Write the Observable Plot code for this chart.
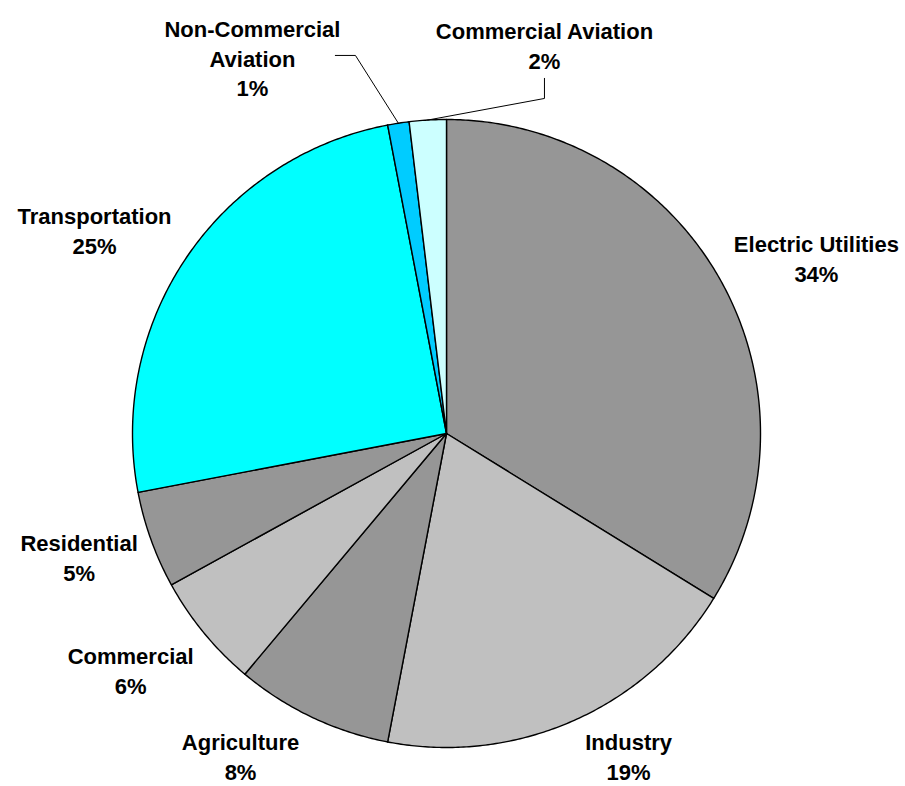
<!DOCTYPE html>
<html>
<head>
<meta charset="utf-8">
<script src="https://cdn.jsdelivr.net/npm/d3@7"></script>
<script src="https://cdn.jsdelivr.net/npm/@observablehq/plot@0.6"></script>
<style>
  html, body { margin: 0; padding: 0; background: #ffffff; }
  #chart { width: 905px; height: 786px; }
</style>
</head>
<body>
<div id="chart"></div>
<script>
// ---- data ----
const categories = ["Electric Utilities", "Industry", "Agriculture", "Commercial", "Residential", "Transportation", "Non-Commercial Aviation", "Commercial Aviation"];
const shares = [33.8, 19.2, 8.1, 5.9, 5.0, 25.0, 1.1, 1.9];
const pctLabels = ["34%", "19%", "8%", "6%", "5%", "25%", "1%", "2%"];
const labelNames = ["Electric Utilities", "Industry", "Agriculture", "Commercial", "Residential", "Transportation", "Non-Commercial\nAviation", "Commercial Aviation"];

// ---- styles / layout ----
const sliceColors = ["#969696", "#C0C0C0", "#969696", "#C0C0C0", "#969696", "#00FFFF", "#00CCFF", "#CCFFFF"];
// label centres, in units of the pie radius (x right, y up, pie centre at 0,0)
const labelPos = [[1.178, 0.561], [0.580, -1.024], [-0.656, -1.024], [-1.006, -0.752], [-1.170, -0.392], [-1.121, 0.650], [-0.618, 1.199], [0.312, 1.239]];
// leader-line elbow points for the callout labels (pie-radius units)
const leaderElbows = {6: [[-0.354, 1.204], [-0.290, 1.204]], 7: [[0.312, 1.131], [0.312, 1.067]]};

// ---- geometry from the data ----
const total = d3.sum(shares);
const slicePts = [];
let acc = 0;
const mids = [];
shares.forEach((v, i) => {
  const a0 = acc / total * 2 * Math.PI;
  acc += v;
  const a1 = acc / total * 2 * Math.PI;
  mids.push((a0 + a1) / 2);
  const n = Math.max(2, Math.ceil((a1 - a0) / (Math.PI / 360)));
  slicePts.push({cat: categories[i], x: 0, y: 0});
  for (let k = 0; k <= n; k++) {
    const a = a0 + (a1 - a0) * k / n;
    slicePts.push({cat: categories[i], x: Math.sin(a), y: Math.cos(a)});
  }
  slicePts.push({cat: categories[i], x: 0, y: 0});
});

const labels = categories.map((c, i) => ({
  cat: c, x: labelPos[i][0], y: labelPos[i][1], text: labelNames[i] + "\n" + pctLabels[i]
}));

const leaders = [];
Object.entries(leaderElbows).forEach(([i, pts]) => {
  pts.forEach(p => leaders.push({id: +i, x: p[0], y: p[1]}));
  leaders.push({id: +i, x: Math.sin(mids[i]), y: Math.cos(mids[i])});
});

const chart = Plot.plot({
  width: 905,
  height: 786,
  margin: 0,
  style: {background: "#ffffff", overflow: "visible"},
  x: {domain: [-1, 1], range: [132, 760], axis: null},
  y: {domain: [-1, 1], range: [747, 119], axis: null},
  color: {domain: categories, range: sliceColors},
  marks: [
    Plot.line(slicePts, {x: "x", y: "y", z: "cat", fill: "cat", stroke: "#000000", strokeWidth: 1.4, strokeLinejoin: "round", curve: "linear"}),
    Plot.line(leaders, {x: "x", y: "y", z: "id", stroke: "#000000", strokeWidth: 1}),
    Plot.text(labels, {x: "x", y: "y", text: "text", fontSize: 22, fontWeight: "bold", fontFamily: "Liberation Sans, Arial, sans-serif", lineHeight: 1.36, textAnchor: "middle", fill: "#000000"})
  ]
});
document.getElementById("chart").appendChild(chart);
</script>
</body>
</html>
